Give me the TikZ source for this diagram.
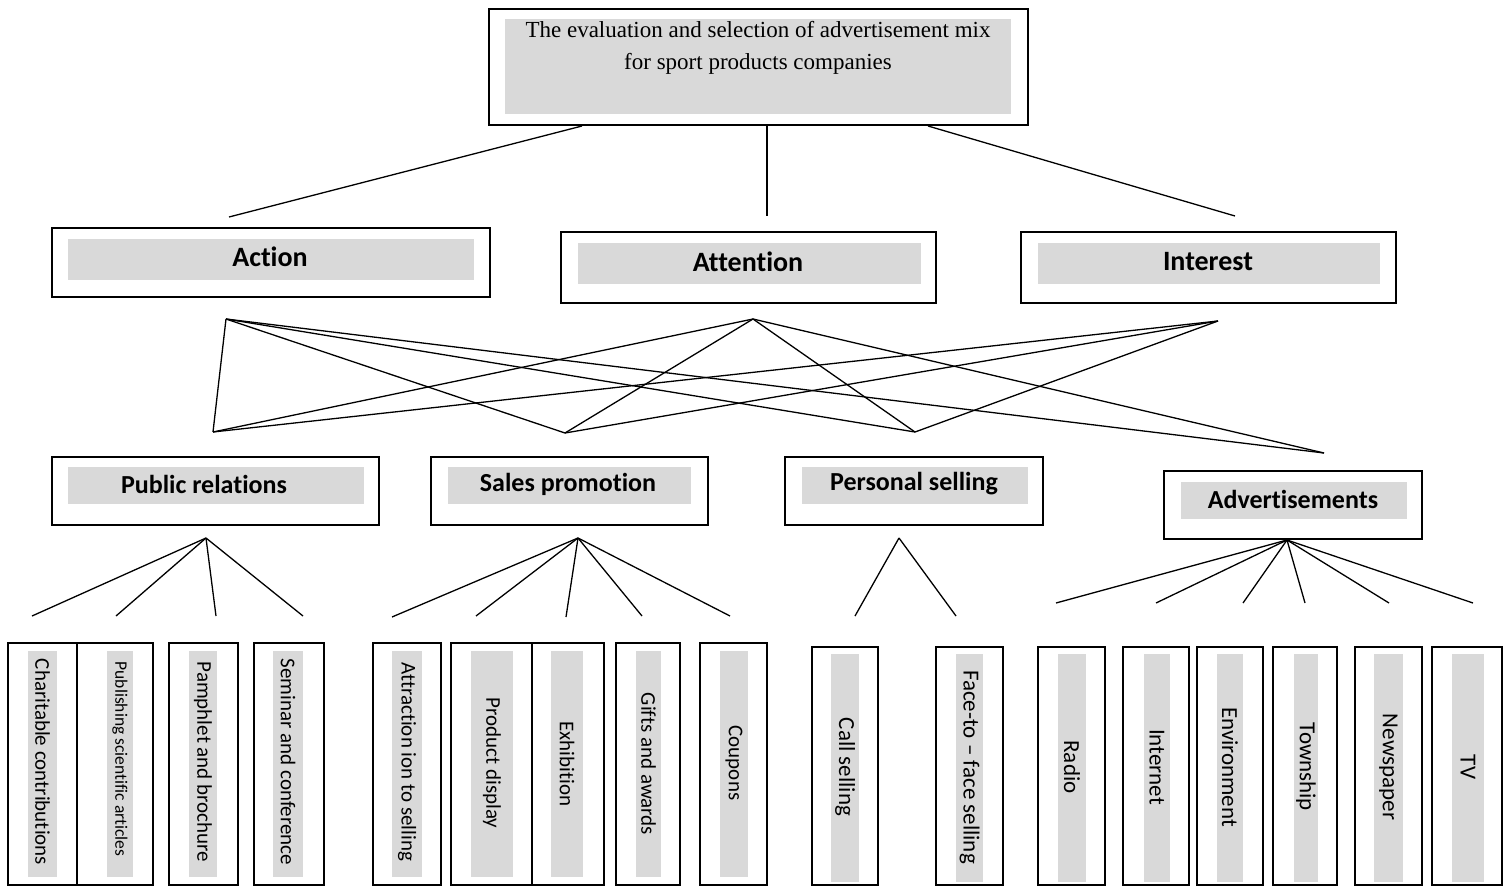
\documentclass[tikz,border=0pt]{standalone}
\usepackage{fontspec}
\setmainfont{Liberation Serif}
\newfontfamily\calfont[Ligatures=NoCommon]{Carlito}
\definecolor{shadegray}{RGB}{217,217,217}
\tikzset{
  outerbox/.style={draw=black, line width=1.6pt, inner sep=0pt, fill=white},
  shadebox/.style={fill=shadegray, draw=none, inner sep=0pt},
  conn/.style={draw=black, line width=1.3pt},
  toptext/.style={inner sep=0pt, align=center, font=\fontsize{23}{32}\selectfont},
  lvltwo/.style={inner sep=0pt, font=\calfont\bfseries\fontsize{28}{32}\selectfont},
  lvlthree/.style={inner sep=0pt, font=\calfont\bfseries\fontsize{26}{30}\selectfont},
  leafL/.style={inner sep=0pt, rotate=-90, font=\calfont\fontsize{21}{25}\selectfont},
  leafS/.style={inner sep=0pt, rotate=-90, font=\calfont\fontsize{17.5}{21}\selectfont},
  leafR/.style={inner sep=0pt, rotate=-90, font=\calfont\fontsize{23}{27}\selectfont},
}
\begin{document}
\begin{tikzpicture}[x=1pt, y=-1pt]
\useasboundingbox (0,0) rectangle (1510,886);
\fill[white] (0,0) rectangle (1510,886);

% ---------- top box ----------
\node[outerbox, minimum width=539pt, minimum height=116pt] (top) at (758.5,67) {};
\node[shadebox, minimum width=506pt, minimum height=95pt] (topg) at (758,66.5) {};
\node[toptext] (toplbl) at (758,48) {The evaluation and selection of advertisement mix\\for sport products companies};

% ---------- level 2 ----------
\node[outerbox, minimum width=438pt, minimum height=69pt] (action) at (271,262.5) {};
\node[shadebox, minimum width=406pt, minimum height=41pt] (actiong) at (271,259.5) {};
\node[lvltwo] (actionlbl) at (270,257) {Action};

\node[outerbox, minimum width=375pt, minimum height=71pt] (attention) at (748.5,267.5) {};
\node[shadebox, minimum width=343pt, minimum height=41pt] (attentiong) at (749.5,263.5) {};
\node[lvltwo] (attentionlbl) at (748,262) {Attention};

\node[outerbox, minimum width=375pt, minimum height=71pt] (interest) at (1208.5,267.5) {};
\node[shadebox, minimum width=342pt, minimum height=41pt] (interestg) at (1209,263.5) {};
\node[lvltwo] (interestlbl) at (1208,262) {Interest};

% ---------- level 3 ----------
\node[outerbox, minimum width=327pt, minimum height=68pt] (pr) at (215.5,491) {};
\node[shadebox, minimum width=296pt, minimum height=37pt] (prg) at (216,485.5) {};
\node[lvlthree] (prlbl) at (204,484) {Public relations};

\node[outerbox, minimum width=277pt, minimum height=68pt] (sp) at (569.5,491) {};
\node[shadebox, minimum width=243pt, minimum height=37pt] (spg) at (569.5,485.5) {};
\node[lvlthree] (splbl) at (568,484) {Sales promotion};

\node[outerbox, minimum width=258pt, minimum height=68pt] (ps) at (914,491) {};
\node[shadebox, minimum width=226pt, minimum height=37pt] (psg) at (915,485.5) {};
\node[lvlthree] (pslbl) at (914,484) {Personal selling};

\node[outerbox, minimum width=258pt, minimum height=68pt] (ad) at (1293,505) {};
\node[shadebox, minimum width=226pt, minimum height=37pt] (adg) at (1294,500.5) {};
\node[lvlthree] (adlbl) at (1293,499) {Advertisements};

% ---------- leaves: left groups ----------
\node[outerbox, minimum width=69pt, minimum height=242pt] (l1) at (42.5,764) {};
\node[shadebox, minimum width=29pt, minimum height=226pt] (l1g) at (42.5,764) {};
\node[leafL] (l1t) at (42.5,762) {Charitable contributions};

\node[outerbox, minimum width=76pt, minimum height=242pt] (l2) at (115,764) {};
\node[shadebox, minimum width=26pt, minimum height=226pt] (l2g) at (120,764) {};
\node[leafS] (l2t) at (120,759) {Publishing scientific articles};

\node[outerbox, minimum width=69pt, minimum height=242pt] (l3) at (203.5,764) {};
\node[shadebox, minimum width=28pt, minimum height=226pt] (l3g) at (203,764) {};
\node[leafL] (l3t) at (203,762) {Pamphlet and brochure};

\node[outerbox, minimum width=70pt, minimum height=242pt] (l4) at (289,764) {};
\node[shadebox, minimum width=30pt, minimum height=226pt] (l4g) at (288,764) {};
\node[leafL] (l4t) at (288,762) {Seminar and conference};

\node[outerbox, minimum width=68pt, minimum height=242pt] (l5) at (407,764) {};
\node[shadebox, minimum width=30pt, minimum height=226pt] (l5g) at (407,764) {};
\node[leafL] (l5t) at (407,762) {Attraction ion to selling};

\node[outerbox, minimum width=81pt, minimum height=242pt] (l6) at (491.5,764) {};
\node[shadebox, minimum width=42pt, minimum height=226pt] (l6g) at (492,764) {};
\node[leafL] (l6t) at (492,763) {Product display};

\node[outerbox, minimum width=72pt, minimum height=242pt] (l7) at (568,764) {};
\node[shadebox, minimum width=32pt, minimum height=226pt] (l7g) at (567,764) {};
\node[leafL] (l7t) at (567,764) {Exhibition};

\node[outerbox, minimum width=64pt, minimum height=242pt] (l8) at (648,764) {};
\node[shadebox, minimum width=25pt, minimum height=226pt] (l8g) at (648.5,764) {};
\node[leafL] (l8t) at (648.5,764) {Gifts and awards};

\node[outerbox, minimum width=67pt, minimum height=242pt] (l9) at (733.5,764) {};
\node[shadebox, minimum width=28pt, minimum height=226pt] (l9g) at (734,764) {};
\node[leafL] (l9t) at (734,763) {Coupons};

% ---------- leaves: right groups ----------
\node[outerbox, minimum width=66pt, minimum height=238pt] (r1) at (845,766) {};
\node[shadebox, minimum width=28pt, minimum height=228pt] (r1g) at (845,768) {};
\node[leafR] (r1t) at (845,767) {Call selling};

\node[outerbox, minimum width=67pt, minimum height=238pt] (r2) at (969.5,766) {};
\node[shadebox, minimum width=27pt, minimum height=228pt] (r2g) at (969.5,768) {};
\node[leafR] (r2t) at (969.5,767) {Face-to – face selling};

\node[outerbox, minimum width=67pt, minimum height=238pt] (r3) at (1071.5,766) {};
\node[shadebox, minimum width=28pt, minimum height=228pt] (r3g) at (1072,768) {};
\node[leafR] (r3t) at (1072,767) {Radio};

\node[outerbox, minimum width=66pt, minimum height=238pt] (r4) at (1156,766) {};
\node[shadebox, minimum width=26pt, minimum height=228pt] (r4g) at (1157,768) {};
\node[leafR] (r4t) at (1157,767) {Internet};

\node[outerbox, minimum width=66pt, minimum height=238pt] (r5) at (1230,766) {};
\node[shadebox, minimum width=26pt, minimum height=228pt] (r5g) at (1230,768) {};
\node[leafR] (r5t) at (1230,767) {Environment};

\node[outerbox, minimum width=64pt, minimum height=238pt] (r6) at (1305,766) {};
\node[shadebox, minimum width=24pt, minimum height=228pt] (r6g) at (1306,768) {};
\node[leafR] (r6t) at (1306,767) {Township};

\node[outerbox, minimum width=67pt, minimum height=238pt] (r7) at (1388.5,766) {};
\node[shadebox, minimum width=29pt, minimum height=228pt] (r7g) at (1388.5,768) {};
\node[leafR] (r7t) at (1388.5,767) {Newspaper};

\node[outerbox, minimum width=70pt, minimum height=238pt] (r8) at (1467,766) {};
\node[shadebox, minimum width=32pt, minimum height=228pt] (r8g) at (1468,768) {};
\node[leafR] (r8t) at (1468,767) {TV};

% ---------- connector end points ----------
\coordinate (topL) at (582,126);
\coordinate (topC) at (767,126);
\coordinate (topR) at (928,126);
\coordinate (actTop) at (229,217);
\coordinate (attTop) at (767,216);
\coordinate (intTop) at (1235,216);

\coordinate (actP) at (226,319);
\coordinate (attP) at (753,319);
\coordinate (intP) at (1218,321);
\coordinate (prP) at (213,432);
\coordinate (spP) at (565,433);
\coordinate (psP) at (915,432);
\coordinate (adP) at (1324,453);

\coordinate (prA) at (206,538);
\coordinate (prE1) at (32,616);
\coordinate (prE2) at (116,616);
\coordinate (prE3) at (216,616);
\coordinate (prE4) at (303,616);

\coordinate (spA) at (578,538);
\coordinate (spE1) at (392,617);
\coordinate (spE2) at (476,616);
\coordinate (spE3) at (566,617);
\coordinate (spE4) at (642,616);
\coordinate (spE5) at (730,616);

\coordinate (psA) at (899,538);
\coordinate (psE1) at (855,616);
\coordinate (psE2) at (956,616);

\coordinate (adA) at (1287,540);
\coordinate (adE1) at (1056,603);
\coordinate (adE2) at (1156,603);
\coordinate (adE3) at (1243,603);
\coordinate (adE4) at (1305,603);
\coordinate (adE5) at (1389,603);
\coordinate (adE6) at (1473,603);

% ---------- connectors ----------
\draw[conn] (topL) -- (actTop);
\draw[conn] (topC) -- (attTop);
\draw[conn] (topR) -- (intTop);

\draw[conn] (actP) -- (prP);
\draw[conn] (actP) -- (spP);
\draw[conn] (actP) -- (psP);
\draw[conn] (actP) -- (adP);
\draw[conn] (attP) -- (prP);
\draw[conn] (attP) -- (spP);
\draw[conn] (attP) -- (psP);
\draw[conn] (attP) -- (adP);
\draw[conn] (intP) -- (prP);
\draw[conn] (intP) -- (spP);
\draw[conn] (intP) -- (psP);

\foreach \e in {prE1,prE2,prE3,prE4} \draw[conn] (prA) -- (\e);
\foreach \e in {spE1,spE2,spE3,spE4,spE5} \draw[conn] (spA) -- (\e);
\foreach \e in {psE1,psE2} \draw[conn] (psA) -- (\e);
\foreach \e in {adE1,adE2,adE3,adE4,adE5,adE6} \draw[conn] (adA) -- (\e);
\end{tikzpicture}
\end{document}
